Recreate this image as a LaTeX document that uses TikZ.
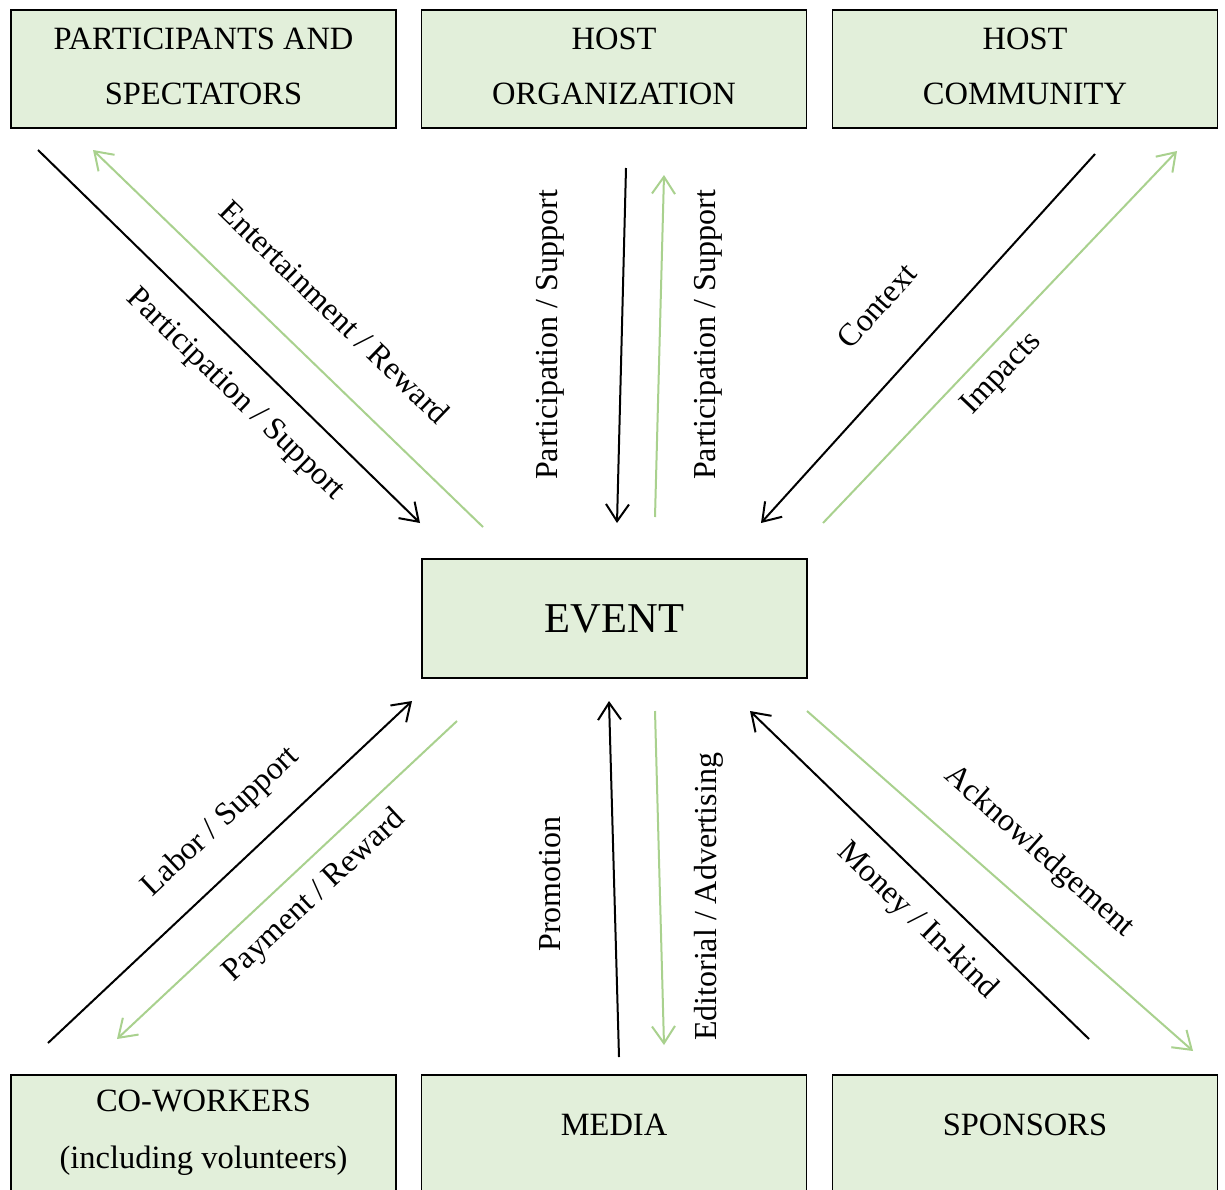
\documentclass[tikz,border=0pt]{standalone}
\usepackage{fontspec}
\setmainfont{Liberation Serif}
\usetikzlibrary{arrows.meta}
\definecolor{boxfill}{HTML}{E2EFDA}
\definecolor{gline}{HTML}{A9D18E}
\newcommand{\lowpad}{\rule[-6pt]{0pt}{6pt}}
\begin{document}
\begin{tikzpicture}[x=1pt,y=-1pt,
  box/.style={draw=black, line width=1.5pt, fill=boxfill, minimum width=385pt, minimum height=118pt, inner sep=0pt, align=center, font=\fontsize{32.5}{55}\selectfont},
  boxtext/.style={inner sep=0pt, align=center, font=\fontsize{32.5}{57}\selectfont},
  lbl/.style={font=\fontsize{32}{36}\selectfont, inner sep=0pt},
  blk/.style={draw=black, line width=2pt, -{Straight Barb[length=17pt,width=23pt]}},
  grn/.style={draw=gline, line width=2pt, -{Straight Barb[length=17pt,width=23pt]}}
]
\useasboundingbox (0,0) rectangle (1225,1189);
\clip (0,0) rectangle (1225,1189);
\fill[white] (0,0) rectangle (1225,1189);

% boxes
\node[box] (part) at (203.5,69) {PARTICIPANTS AND\\SPECTATORS\lowpad};
\node[box] (horg) at (614,69) {HOST\\ORGANIZATION\lowpad};
\node[box] (hcom) at (1025,69) {HOST\\COMMUNITY\lowpad};
\node[box, minimum height=119pt, font=\fontsize{42.5}{48}\selectfont] (event) at (614.5,618.5) {EVENT};
\node[box, anchor=north, minimum height=135pt] (cowb) at (203.5,1074) {};
\node[box, anchor=north, minimum height=135pt] (medb) at (614,1074) {};
\node[box, anchor=north, minimum height=135pt] (spob) at (1025,1074) {};
\node[boxtext] (cowt) at (203.5,1133) {CO-WORKERS\\(including volunteers)};
\node[boxtext] (medt) at (614,1125) {MEDIA};
\node[boxtext] (spot) at (1025,1125) {SPONSORS};

% connector end points
\coordinate (c1a) at (38,150);   \coordinate (c1b) at (420,523);
\coordinate (c2a) at (483,527);  \coordinate (c2b) at (93,150);
\coordinate (c3a) at (626,168);  \coordinate (c3b) at (617,523);
\coordinate (c4a) at (655,517);  \coordinate (c4b) at (664,175);
\coordinate (c5a) at (1095,154); \coordinate (c5b) at (761,523);
\coordinate (c6a) at (823,523);  \coordinate (c6b) at (1177,151);
\coordinate (c7a) at (48,1043);  \coordinate (c7b) at (412,701);
\coordinate (c8a) at (457,721);  \coordinate (c8b) at (117,1039);
\coordinate (c9a) at (619,1057); \coordinate (c9b) at (609,701);
\coordinate (c10a) at (655,711); \coordinate (c10b) at (664,1045);
\coordinate (c11a) at (1089,1039); \coordinate (c11b) at (750,711);
\coordinate (c12a) at (807,711); \coordinate (c12b) at (1193,1051);

% connectors
\draw[blk] (c1a) -- (c1b);
\draw[grn] (c2a) -- (c2b);
\draw[blk] (c3a) -- (c3b);
\draw[grn] (c4a) -- (c4b);
\draw[blk] (c5a) -- (c5b);
\draw[grn] (c6a) -- (c6b);
\draw[blk] (c7a) -- (c7b);
\draw[grn] (c8a) -- (c8b);
\draw[blk] (c9a) -- (c9b);
\draw[grn] (c10a) -- (c10b);
\draw[blk] (c11a) -- (c11b);
\draw[grn] (c12a) -- (c12b);

% labels
\node[lbl, rotate=-44] (l1) at (335,312) {Entertainment / Reward};
\node[lbl, rotate=-44] (l2) at (235,395) {Participation / Support};
\node[lbl, rotate=90] (l3) at (550,335) {Participation / Support};
\node[lbl, rotate=90] (l4) at (708,335) {Participation / Support};
\node[lbl, rotate=48] (l5) at (877,306) {Context};
\node[lbl, rotate=46.5] (l6) at (1002,374) {Impacts};
\node[lbl, rotate=43.3] (l7) at (221,822) {Labor / Support};
\node[lbl, rotate=43] (l8) at (315,896) {Payment / Reward};
\node[lbl, rotate=90] (l9) at (550,884) {Promotion};
\node[lbl, rotate=90] (l10) at (709,897) {Editorial / Advertising};
\node[lbl, rotate=-41.4] (l11) at (1039,852) {Acknowledgement};
\node[lbl, rotate=-44] (l12) at (917,921) {Money / In-kind};
\end{tikzpicture}
\end{document}
